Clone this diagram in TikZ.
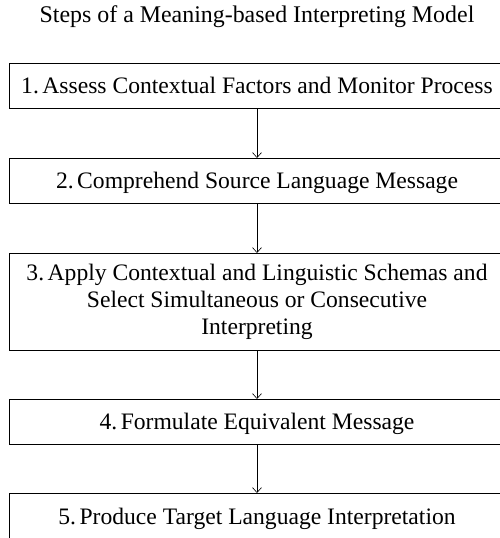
\documentclass[tikz,border=0pt]{standalone}
\usepackage{fontspec}
\setmainfont{Liberation Serif}
\usetikzlibrary{arrows.meta}

\begin{document}
\begin{tikzpicture}[x={(1pt,0pt)},y={(0pt,-1pt)},every node/.style={inner sep=0pt, outer sep=0pt, font=\fontsize{23.6}{27}\selectfont},
  stepbox/.style={draw, line width=0.8pt, minimum width=496pt, minimum height=45pt, align=center},
  oneline/.style={text height=15.6pt, text depth=0pt},
  steparrow/.style={-{Straight Barb[length=5pt,width=9pt,line width=0.6pt]}, line width=0.8pt}]
\useasboundingbox (0,0) rectangle (499,538);
\node[oneline, font=\fontsize{23.9}{27}\selectfont] (title) at (257,15) {Steps of a Meaning-based Interpreting Model};
\node[stepbox, oneline] (s1) at (257,85.5) {1.\hspace{0.15em}Assess Contextual Factors and Monitor Process};
\node[stepbox, oneline] (s2) at (257,180.5) {2.\hspace{0.15em}Comprehend Source Language Message};
\node[stepbox, minimum height=97pt] (s3) at (257,301.5) {3.\hspace{0.15em}Apply Contextual and Linguistic Schemas and\\Select Simultaneous or Consecutive\\Interpreting};
\node[stepbox, oneline] (s4) at (257,421.5) {4.\hspace{0.15em}Formulate Equivalent Message};
\node[stepbox, oneline, minimum height=47pt] (s5) at (257,516.5) {5.\hspace{0.15em}Produce Target Language Interpretation};
\draw[steparrow] (s1) -- (s2);
\draw[steparrow] (s2) -- (s3);
\draw[steparrow] (s3) -- (s4);
\draw[steparrow] (s4) -- (s5);
\end{tikzpicture}
\end{document}
